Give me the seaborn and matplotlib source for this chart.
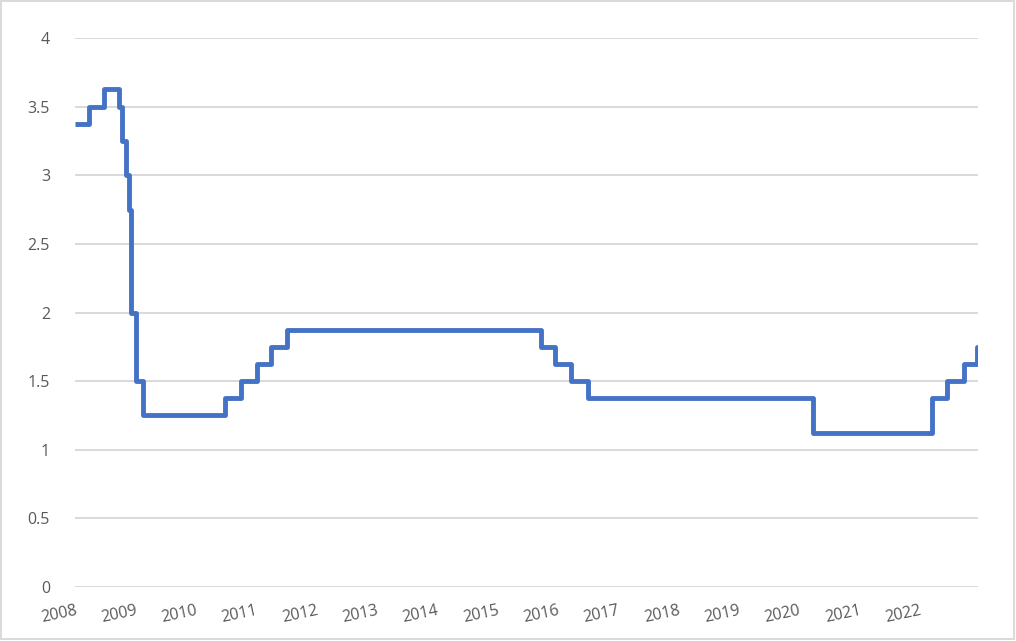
import matplotlib
matplotlib.use("Agg")
import matplotlib.pyplot as plt
import seaborn as sns
import pandas as pd
from matplotlib.patches import Rectangle

sns.set_style("white")
plt.rcParams["font.family"] = ["Open Sans", "DejaVu Sans"]

# step dates (fractional years) and the rate that starts there
dates = [2008.00, 2008.23, 2008.48, 2008.73, 2008.78, 2008.84, 2008.90, 2008.93,
         2009.01, 2009.13, 2010.49, 2010.75, 2011.02, 2011.25, 2011.52, 2015.73,
         2015.96, 2016.23, 2016.51, 2020.23, 2022.21, 2022.46, 2022.73, 2022.96]
rates = [3.375, 3.5, 3.625, 3.5, 3.25, 3.0, 2.75, 2.0,
         1.5, 1.25, 1.375, 1.5, 1.625, 1.75, 1.875, 1.75,
         1.625, 1.5, 1.375, 1.125, 1.375, 1.5, 1.625, 1.75]
# last level is drawn a little further so the final riser shows
end_date = 2022.97
years = list(range(2008, 2023))
y_ticks = [0, 0.5, 1, 1.5, 2, 2.5, 3, 3.5, 4]

df = pd.DataFrame({"date": dates + [end_date], "rate": rates + [rates[-1]]})

fig = plt.figure(figsize=(10.16, 6.41), dpi=100)
ax = fig.add_axes([0.0738, 0.0842, 0.9626 - 0.0738, 0.9407 - 0.0842])

grid_col = "#d9d9d9"
text_col = "#595959"

for v in y_ticks:
    ax.axhline(v, color=grid_col, lw=1.4, zorder=0)

sns.lineplot(data=df, x="date", y="rate", drawstyle="steps-post",
             color="#4472c4", lw=3.5, ax=ax, zorder=3,
             solid_joinstyle="round", solid_capstyle="butt")

ax.set_xlim(2008, end_date)
ax.set_ylim(0, 4)
ax.set_yticks(y_ticks)
ax.set_yticklabels(["0", "0.5", "1", "1.5", "2", "2.5", "3", "3.5", "4"])
ax.set_xticks(years)
ax.set_xticklabels([str(y) for y in years], rotation=12, ha="right",
                   rotation_mode="anchor")
ax.set_xlabel("")
ax.set_ylabel("")

for s in ax.spines.values():
    s.set_visible(False)

ax.tick_params(axis="y", length=0, pad=18, labelsize=11.5, labelcolor=text_col)
ax.tick_params(axis="x", length=5, width=1.4, color=grid_col, pad=6,
               labelsize=11.5, labelcolor=text_col, direction="out")

# chart border like the excel chart area
fig.patches.append(Rectangle((0.001, 0.003), 0.997, 0.995, transform=fig.transFigure,
                             fill=False, edgecolor=grid_col, lw=1.4))

fig.savefig("out.png", dpi=100)
